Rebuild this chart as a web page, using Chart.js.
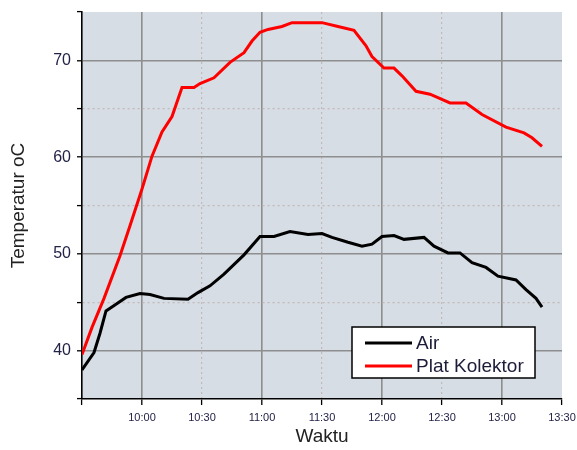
<!DOCTYPE html>
<html>
<head>
<meta charset="utf-8">
<script src="https://cdn.jsdelivr.net/npm/chart.js@4/dist/chart.umd.min.js"></script>
<style>
  html, body { margin: 0; padding: 0; background: #ffffff; }
  #wrap { width: 577px; height: 450px; position: relative; }
</style>
</head>
<body>
<div id="wrap"><canvas id="chart" width="577" height="450"></canvas></div>
<script>
// Temperature readings (°C) through the day
const airTimes = ['9:30','9:36','9:39','9:42','9:47','9:52','9:59','10:04','10:11','10:23','10:28','10:34','10:41','10:51','10:59','11:06','11:14','11:23','11:30','11:35','11:43','11:50','11:55','12:00','12:06','12:11','12:21','12:26','12:33','12:39','12:45','12:52','12:58','13:07','13:12','13:17','13:20'];
const airTemps = [38.0,39.8,41.8,44.1,44.8,45.5,45.9,45.8,45.4,45.3,46.0,46.7,47.9,49.9,51.8,51.8,52.3,52.0,52.1,51.7,51.2,50.8,51.0,51.8,51.9,51.5,51.7,50.8,50.1,50.1,49.1,48.6,47.7,47.3,46.3,45.4,44.5];

const plateTimes = ['9:30','9:35','9:41','9:49','9:54','10:00','10:05','10:10','10:15','10:20','10:26','10:29','10:36','10:44','10:51','10:55','10:59','11:03','11:10','11:15','11:30','11:38','11:46','11:52','11:55','12:01','12:06','12:10','12:17','12:24','12:34','12:42','12:50','13:02','13:11','13:15','13:20'];
const plateTemps = [39.6,42.4,45.4,49.8,52.9,56.7,60.1,62.6,64.2,67.2,67.2,67.6,68.2,69.8,70.8,72.0,72.9,73.2,73.5,73.9,73.9,73.5,73.1,71.5,70.4,69.2,69.2,68.4,66.8,66.5,65.6,65.6,64.4,63.1,62.5,62.0,61.1];

const seriesLabels = ['Air', 'Plat Kolektor'];
const xTickLabels = ['10:00','10:30','11:00','11:30','12:00','12:30','13:00','13:30'];
const yTickLabels = [40, 50, 60, 70];

const toMinutes = s => { const [h, m] = s.split(':').map(Number); return h * 60 + m; };
const fmtTime = v => String(Math.floor(v / 60)).padStart(2, '0') + ':' + String(v % 60).padStart(2, '0');
const points = (ts, vs) => ts.map((t, i) => ({ x: toMinutes(t), y: vs[i] }));

const X_MIN = toMinutes('9:30'), X_MAX = toMinutes('13:30');
const Y_MIN = 35, Y_MAX = 75;

const MAJOR = '#8e8e8e', MINOR = '#c3b9b9', NONE = 'rgba(0,0,0,0)';
const TEXT = '#232348';
const FONT = '"Liberation Sans", Arial, sans-serif';

// plot background
const plotBackground = {
  id: 'plotBackground',
  beforeDraw(chart) {
    const { ctx, chartArea: a } = chart;
    ctx.save();
    ctx.fillStyle = '#d6dde4';
    ctx.fillRect(a.left, a.top, a.right - a.left, a.bottom - a.top);
    ctx.restore();
  }
};

// framed legend inside the plot, lower right
const boxLegend = {
  id: 'boxLegend',
  afterDatasetsDraw(chart) {
    const { ctx, chartArea: a } = chart;
    const w = 183, h = 51;
    const x = a.right - 27 - w, y = a.bottom - 21 - h;
    ctx.save();
    ctx.fillStyle = '#ffffff';
    ctx.fillRect(x, y, w, h);
    ctx.strokeStyle = '#000000';
    ctx.lineWidth = 1.5;
    ctx.strokeRect(x, y, w, h);
    ctx.font = '19px ' + FONT;
    ctx.textBaseline = 'middle';
    ctx.fillStyle = '#1c1c38';
    chart.data.datasets.forEach((ds, i) => {
      const ly = y + 16 + i * 23;
      ctx.strokeStyle = ds.borderColor;
      ctx.lineWidth = 3;
      ctx.beginPath();
      ctx.moveTo(x + 13, ly);
      ctx.lineTo(x + 60, ly);
      ctx.stroke();
      ctx.fillText(ds.label, x + 64, ly + 1);
    });
    ctx.restore();
  }
};

const isInner = (v, lo, hi) => v > lo && v < hi;

new Chart(document.getElementById('chart'), {
  type: 'line',
  data: {
    datasets: [
      { label: seriesLabels[0], data: points(airTimes, airTemps), borderColor: '#000000', borderWidth: 3, pointRadius: 0, tension: 0 },
      { label: seriesLabels[1], data: points(plateTimes, plateTemps), borderColor: '#ff0000', borderWidth: 3, pointRadius: 0, tension: 0 }
    ]
  },
  options: {
    responsive: false,
    animation: false,
    layout: { padding: { top: 12, right: 15, left: 0, bottom: 0 } },
    plugins: { legend: { display: false }, tooltip: { enabled: false } },
    scales: {
      x: {
        type: 'linear', min: X_MIN, max: X_MAX,
        afterFit(s) { s.height = 51; s.paddingLeft = 0; s.paddingRight = 0; },
        ticks: {
          stepSize: 30, autoSkip: false, maxRotation: 0, padding: 6,
          color: TEXT, font: { family: FONT, size: 11 },
          callback: v => xTickLabels.includes(fmtTime(v)) ? fmtTime(v) : ''
        },
        grid: {
          color: c => { const v = c.tick && c.tick.value; if (!isInner(v, X_MIN, X_MAX)) return NONE; return v % 60 === 0 ? MAJOR : MINOR; },
          lineWidth: c => { const v = c.tick && c.tick.value; return v % 60 === 0 ? 1.6 : 1.2; },
          drawTicks: true, tickLength: 6, tickColor: '#000000', tickWidth: 1.3
        },
        border: {
          display: true, color: '#000000', width: 1.6,
          dash: c => { const v = c.tick && c.tick.value; return (v !== undefined && v % 60 !== 0) ? [2, 3] : []; }
        },
        title: { display: true, text: 'Waktu', color: '#222222', padding: { top: 0, bottom: 2 }, font: { family: FONT, size: 19 } }
      },
      y: {
        type: 'linear', min: Y_MIN, max: Y_MAX,
        afterFit(s) { s.width = 82; s.paddingTop = 0; s.paddingBottom = 0; },
        ticks: {
          stepSize: 5, autoSkip: false, padding: 6,
          color: TEXT, font: { family: FONT, size: 16 },
          callback: v => yTickLabels.includes(v) ? String(v) : ''
        },
        grid: {
          color: c => { const v = c.tick && c.tick.value; if (!isInner(v, Y_MIN, Y_MAX)) return NONE; return v % 10 === 0 ? MAJOR : MINOR; },
          lineWidth: c => { const v = c.tick && c.tick.value; return v % 10 === 0 ? 1.6 : 1.2; },
          drawTicks: true, tickLength: 5, tickColor: '#000000', tickWidth: 1.3
        },
        border: {
          display: true, color: '#000000', width: 1.6,
          dash: c => { const v = c.tick && c.tick.value; return (v !== undefined && v % 10 !== 0) ? [2, 3] : []; }
        },
        title: { display: true, text: 'Temperatur oC', color: '#222222', padding: { top: 7, bottom: 0 }, font: { family: FONT, size: 19 } }
      }
    }
  },
  plugins: [plotBackground, boxLegend]
});
</script>
</body>
</html>
